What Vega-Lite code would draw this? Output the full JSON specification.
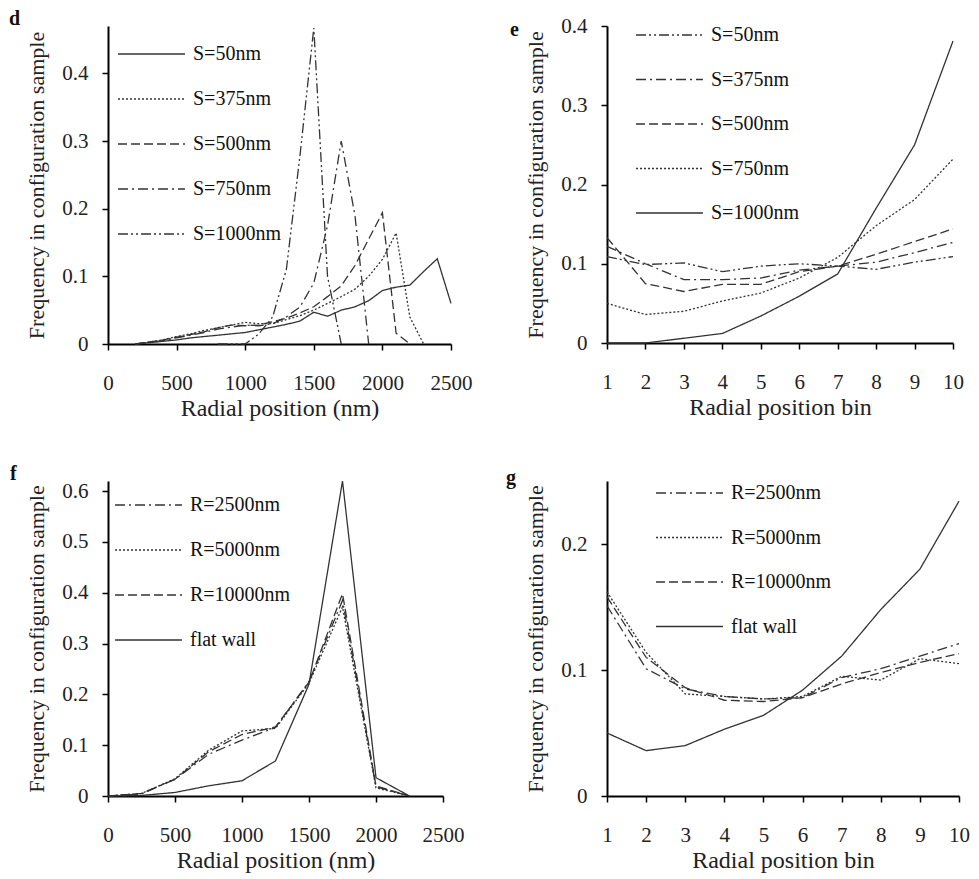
{
  "$schema": "https://vega.github.io/schema/vega-lite/v6.json",
  "padding": {"left": 9, "top": 9, "right": 5, "bottom": 5},
  "background": "white",
  "bounds": "flush",
  "columns": 2,
  "spacing": {"row": 137, "column": 156},
  "resolve": {"scale": {"strokeDash": "independent"}, "legend": {"strokeDash": "independent"}},
  "config": {
    "view": {"stroke": null},
    "axis": {
      "grid": false,
      "labelFlush": false,
      "domainColor": "#000",
      "domainWidth": 2,
      "tickColor": "#000",
      "tickWidth": 1.5,
      "tickSize": 6,
      "labelFont": "Liberation Serif",
      "labelFontSize": 21,
      "labelColor": "#222",
      "titleFont": "Liberation Serif",
      "titleFontWeight": "normal",
      "titleColor": "#222"
    },
    "axisX": {"labelPadding": 22, "titleFontSize": 24, "titlePadding": 3},
    "axisY": {"labelPadding": 14, "titleFontSize": 22, "titlePadding": 13},
    "legend": {
      "title": null,
      "orient": "none",
      "symbolType": "M-4,0H4",
      "symbolSize": 280,
      "symbolStrokeWidth": 1.3,
      "symbolStrokeColor": "#333",
      "symbolOffset": 23.5,
      "labelOffset": 31.5,
      "rowPadding": 25,
      "padding": 0,
      "labelFont": "Liberation Serif",
      "labelFontSize": 20,
      "labelColor": "#111",
      "labelLimit": 0
    },
    "title": {"font": "Liberation Serif", "fontSize": 20, "fontWeight": "bold", "color": "#111", "anchor": "start", "frame": "group", "align": "left", "baseline": "alphabetic", "offset": 0}
  },
  "datasets": {
    "d": [
      {"x": 200, "y": 0, "s": "S=50nm"}, {"x": 300, "y": 0.002, "s": "S=50nm"}, {"x": 400, "y": 0.004, "s": "S=50nm"}, {"x": 500, "y": 0.006, "s": "S=50nm"}, {"x": 600, "y": 0.009, "s": "S=50nm"}, {"x": 700, "y": 0.011, "s": "S=50nm"}, {"x": 800, "y": 0.013, "s": "S=50nm"}, {"x": 900, "y": 0.015, "s": "S=50nm"}, {"x": 1000, "y": 0.017, "s": "S=50nm"}, {"x": 1100, "y": 0.021, "s": "S=50nm"}, {"x": 1200, "y": 0.025, "s": "S=50nm"}, {"x": 1300, "y": 0.029, "s": "S=50nm"}, {"x": 1400, "y": 0.034, "s": "S=50nm"}, {"x": 1500, "y": 0.047, "s": "S=50nm"}, {"x": 1600, "y": 0.041, "s": "S=50nm"}, {"x": 1700, "y": 0.05, "s": "S=50nm"}, {"x": 1800, "y": 0.055, "s": "S=50nm"}, {"x": 1900, "y": 0.064, "s": "S=50nm"}, {"x": 2000, "y": 0.079, "s": "S=50nm"}, {"x": 2100, "y": 0.084, "s": "S=50nm"}, {"x": 2200, "y": 0.087, "s": "S=50nm"}, {"x": 2300, "y": 0.107, "s": "S=50nm"}, {"x": 2400, "y": 0.126, "s": "S=50nm"}, {"x": 2500, "y": 0.06, "s": "S=50nm"},
      {"x": 200, "y": 0, "s": "S=375nm"}, {"x": 300, "y": 0.003, "s": "S=375nm"}, {"x": 400, "y": 0.006, "s": "S=375nm"}, {"x": 500, "y": 0.011, "s": "S=375nm"}, {"x": 600, "y": 0.015, "s": "S=375nm"}, {"x": 700, "y": 0.02, "s": "S=375nm"}, {"x": 800, "y": 0.024, "s": "S=375nm"}, {"x": 900, "y": 0.028, "s": "S=375nm"}, {"x": 1000, "y": 0.032, "s": "S=375nm"}, {"x": 1100, "y": 0.03, "s": "S=375nm"}, {"x": 1200, "y": 0.03, "s": "S=375nm"}, {"x": 1300, "y": 0.036, "s": "S=375nm"}, {"x": 1400, "y": 0.042, "s": "S=375nm"}, {"x": 1500, "y": 0.05, "s": "S=375nm"}, {"x": 1600, "y": 0.06, "s": "S=375nm"}, {"x": 1700, "y": 0.07, "s": "S=375nm"}, {"x": 1800, "y": 0.081, "s": "S=375nm"}, {"x": 1900, "y": 0.1, "s": "S=375nm"}, {"x": 2000, "y": 0.125, "s": "S=375nm"}, {"x": 2100, "y": 0.164, "s": "S=375nm"}, {"x": 2200, "y": 0.04, "s": "S=375nm"}, {"x": 2300, "y": 0, "s": "S=375nm"},
      {"x": 200, "y": 0, "s": "S=500nm"}, {"x": 300, "y": 0.003, "s": "S=500nm"}, {"x": 400, "y": 0.006, "s": "S=500nm"}, {"x": 500, "y": 0.01, "s": "S=500nm"}, {"x": 600, "y": 0.014, "s": "S=500nm"}, {"x": 700, "y": 0.018, "s": "S=500nm"}, {"x": 800, "y": 0.024, "s": "S=500nm"}, {"x": 900, "y": 0.028, "s": "S=500nm"}, {"x": 1000, "y": 0.027, "s": "S=500nm"}, {"x": 1100, "y": 0.028, "s": "S=500nm"}, {"x": 1200, "y": 0.033, "s": "S=500nm"}, {"x": 1300, "y": 0.038, "s": "S=500nm"}, {"x": 1400, "y": 0.046, "s": "S=500nm"}, {"x": 1500, "y": 0.055, "s": "S=500nm"}, {"x": 1600, "y": 0.07, "s": "S=500nm"}, {"x": 1700, "y": 0.086, "s": "S=500nm"}, {"x": 1800, "y": 0.116, "s": "S=500nm"}, {"x": 1900, "y": 0.155, "s": "S=500nm"}, {"x": 2000, "y": 0.194, "s": "S=500nm"}, {"x": 2100, "y": 0.016, "s": "S=500nm"}, {"x": 2200, "y": 0, "s": "S=500nm"},
      {"x": 200, "y": 0, "s": "S=750nm"}, {"x": 300, "y": 0.002, "s": "S=750nm"}, {"x": 400, "y": 0.005, "s": "S=750nm"}, {"x": 500, "y": 0.009, "s": "S=750nm"}, {"x": 600, "y": 0.013, "s": "S=750nm"}, {"x": 700, "y": 0.017, "s": "S=750nm"}, {"x": 800, "y": 0.022, "s": "S=750nm"}, {"x": 900, "y": 0.025, "s": "S=750nm"}, {"x": 1000, "y": 0.028, "s": "S=750nm"}, {"x": 1100, "y": 0.027, "s": "S=750nm"}, {"x": 1200, "y": 0.03, "s": "S=750nm"}, {"x": 1300, "y": 0.04, "s": "S=750nm"}, {"x": 1400, "y": 0.055, "s": "S=750nm"}, {"x": 1500, "y": 0.09, "s": "S=750nm"}, {"x": 1600, "y": 0.175, "s": "S=750nm"}, {"x": 1700, "y": 0.3, "s": "S=750nm"}, {"x": 1800, "y": 0.19, "s": "S=750nm"}, {"x": 1900, "y": 0, "s": "S=750nm"},
      {"x": 800, "y": 0, "s": "S=1000nm"}, {"x": 900, "y": 0, "s": "S=1000nm"}, {"x": 1000, "y": 0, "s": "S=1000nm"}, {"x": 1100, "y": 0.015, "s": "S=1000nm"}, {"x": 1200, "y": 0.04, "s": "S=1000nm"}, {"x": 1300, "y": 0.11, "s": "S=1000nm"}, {"x": 1400, "y": 0.28, "s": "S=1000nm"}, {"x": 1500, "y": 0.467, "s": "S=1000nm"}, {"x": 1600, "y": 0.1, "s": "S=1000nm"}, {"x": 1700, "y": 0, "s": "S=1000nm"}
    ],
    "e": [
      {"x": 1, "y": 0.109, "s": "S=50nm"}, {"x": 2, "y": 0.099, "s": "S=50nm"}, {"x": 3, "y": 0.101, "s": "S=50nm"}, {"x": 4, "y": 0.09, "s": "S=50nm"}, {"x": 5, "y": 0.097, "s": "S=50nm"}, {"x": 6, "y": 0.1, "s": "S=50nm"}, {"x": 7, "y": 0.097, "s": "S=50nm"}, {"x": 8, "y": 0.093, "s": "S=50nm"}, {"x": 9, "y": 0.102, "s": "S=50nm"}, {"x": 10, "y": 0.109, "s": "S=50nm"},
      {"x": 1, "y": 0.122, "s": "S=375nm"}, {"x": 2, "y": 0.1, "s": "S=375nm"}, {"x": 3, "y": 0.08, "s": "S=375nm"}, {"x": 4, "y": 0.08, "s": "S=375nm"}, {"x": 5, "y": 0.082, "s": "S=375nm"}, {"x": 6, "y": 0.092, "s": "S=375nm"}, {"x": 7, "y": 0.097, "s": "S=375nm"}, {"x": 8, "y": 0.102, "s": "S=375nm"}, {"x": 9, "y": 0.114, "s": "S=375nm"}, {"x": 10, "y": 0.127, "s": "S=375nm"},
      {"x": 1, "y": 0.133, "s": "S=500nm"}, {"x": 2, "y": 0.075, "s": "S=500nm"}, {"x": 3, "y": 0.065, "s": "S=500nm"}, {"x": 4, "y": 0.074, "s": "S=500nm"}, {"x": 5, "y": 0.074, "s": "S=500nm"}, {"x": 6, "y": 0.09, "s": "S=500nm"}, {"x": 7, "y": 0.097, "s": "S=500nm"}, {"x": 8, "y": 0.112, "s": "S=500nm"}, {"x": 9, "y": 0.128, "s": "S=500nm"}, {"x": 10, "y": 0.144, "s": "S=500nm"},
      {"x": 1, "y": 0.05, "s": "S=750nm"}, {"x": 2, "y": 0.036, "s": "S=750nm"}, {"x": 3, "y": 0.04, "s": "S=750nm"}, {"x": 4, "y": 0.053, "s": "S=750nm"}, {"x": 5, "y": 0.063, "s": "S=750nm"}, {"x": 6, "y": 0.082, "s": "S=750nm"}, {"x": 7, "y": 0.108, "s": "S=750nm"}, {"x": 8, "y": 0.148, "s": "S=750nm"}, {"x": 9, "y": 0.181, "s": "S=750nm"}, {"x": 10, "y": 0.232, "s": "S=750nm"},
      {"x": 1, "y": 0, "s": "S=1000nm"}, {"x": 2, "y": 0, "s": "S=1000nm"}, {"x": 3, "y": 0.006, "s": "S=1000nm"}, {"x": 4, "y": 0.012, "s": "S=1000nm"}, {"x": 5, "y": 0.034, "s": "S=1000nm"}, {"x": 6, "y": 0.059, "s": "S=1000nm"}, {"x": 7, "y": 0.087, "s": "S=1000nm"}, {"x": 8, "y": 0.17, "s": "S=1000nm"}, {"x": 9, "y": 0.25, "s": "S=1000nm"}, {"x": 10, "y": 0.381, "s": "S=1000nm"}
    ],
    "f": [
      {"x": 0, "y": 0, "s": "R=2500nm"}, {"x": 250, "y": 0.004, "s": "R=2500nm"}, {"x": 500, "y": 0.033, "s": "R=2500nm"}, {"x": 750, "y": 0.082, "s": "R=2500nm"}, {"x": 1000, "y": 0.11, "s": "R=2500nm"}, {"x": 1250, "y": 0.135, "s": "R=2500nm"}, {"x": 1500, "y": 0.225, "s": "R=2500nm"}, {"x": 1750, "y": 0.385, "s": "R=2500nm"}, {"x": 2000, "y": 0.018, "s": "R=2500nm"}, {"x": 2250, "y": 0, "s": "R=2500nm"},
      {"x": 0, "y": 0, "s": "R=5000nm"}, {"x": 250, "y": 0.005, "s": "R=5000nm"}, {"x": 500, "y": 0.034, "s": "R=5000nm"}, {"x": 750, "y": 0.09, "s": "R=5000nm"}, {"x": 1000, "y": 0.128, "s": "R=5000nm"}, {"x": 1250, "y": 0.133, "s": "R=5000nm"}, {"x": 1500, "y": 0.222, "s": "R=5000nm"}, {"x": 1750, "y": 0.372, "s": "R=5000nm"}, {"x": 2000, "y": 0.016, "s": "R=5000nm"}, {"x": 2250, "y": 0, "s": "R=5000nm"},
      {"x": 0, "y": 0, "s": "R=10000nm"}, {"x": 250, "y": 0.005, "s": "R=10000nm"}, {"x": 500, "y": 0.033, "s": "R=10000nm"}, {"x": 750, "y": 0.087, "s": "R=10000nm"}, {"x": 1000, "y": 0.121, "s": "R=10000nm"}, {"x": 1250, "y": 0.136, "s": "R=10000nm"}, {"x": 1500, "y": 0.224, "s": "R=10000nm"}, {"x": 1750, "y": 0.398, "s": "R=10000nm"}, {"x": 2000, "y": 0.02, "s": "R=10000nm"}, {"x": 2250, "y": 0, "s": "R=10000nm"},
      {"x": 0, "y": 0, "s": "flat wall"}, {"x": 250, "y": 0.001, "s": "flat wall"}, {"x": 500, "y": 0.007, "s": "flat wall"}, {"x": 750, "y": 0.02, "s": "flat wall"}, {"x": 1000, "y": 0.03, "s": "flat wall"}, {"x": 1250, "y": 0.069, "s": "flat wall"}, {"x": 1500, "y": 0.22, "s": "flat wall"}, {"x": 1750, "y": 0.62, "s": "flat wall"}, {"x": 2000, "y": 0.036, "s": "flat wall"}, {"x": 2250, "y": 0, "s": "flat wall"}
    ],
    "g": [
      {"x": 1, "y": 0.151, "s": "R=2500nm"}, {"x": 2, "y": 0.101, "s": "R=2500nm"}, {"x": 3, "y": 0.085, "s": "R=2500nm"}, {"x": 4, "y": 0.079, "s": "R=2500nm"}, {"x": 5, "y": 0.077, "s": "R=2500nm"}, {"x": 6, "y": 0.078, "s": "R=2500nm"}, {"x": 7, "y": 0.094, "s": "R=2500nm"}, {"x": 8, "y": 0.101, "s": "R=2500nm"}, {"x": 9, "y": 0.111, "s": "R=2500nm"}, {"x": 10, "y": 0.121, "s": "R=2500nm"},
      {"x": 1, "y": 0.162, "s": "R=5000nm"}, {"x": 2, "y": 0.114, "s": "R=5000nm"}, {"x": 3, "y": 0.081, "s": "R=5000nm"}, {"x": 4, "y": 0.079, "s": "R=5000nm"}, {"x": 5, "y": 0.077, "s": "R=5000nm"}, {"x": 6, "y": 0.079, "s": "R=5000nm"}, {"x": 7, "y": 0.095, "s": "R=5000nm"}, {"x": 8, "y": 0.092, "s": "R=5000nm"}, {"x": 9, "y": 0.109, "s": "R=5000nm"}, {"x": 10, "y": 0.105, "s": "R=5000nm"},
      {"x": 1, "y": 0.158, "s": "R=10000nm"}, {"x": 2, "y": 0.11, "s": "R=10000nm"}, {"x": 3, "y": 0.086, "s": "R=10000nm"}, {"x": 4, "y": 0.076, "s": "R=10000nm"}, {"x": 5, "y": 0.075, "s": "R=10000nm"}, {"x": 6, "y": 0.078, "s": "R=10000nm"}, {"x": 7, "y": 0.089, "s": "R=10000nm"}, {"x": 8, "y": 0.098, "s": "R=10000nm"}, {"x": 9, "y": 0.106, "s": "R=10000nm"}, {"x": 10, "y": 0.113, "s": "R=10000nm"},
      {"x": 1, "y": 0.05, "s": "flat wall"}, {"x": 2, "y": 0.036, "s": "flat wall"}, {"x": 3, "y": 0.04, "s": "flat wall"}, {"x": 4, "y": 0.053, "s": "flat wall"}, {"x": 5, "y": 0.064, "s": "flat wall"}, {"x": 6, "y": 0.084, "s": "flat wall"}, {"x": 7, "y": 0.111, "s": "flat wall"}, {"x": 8, "y": 0.148, "s": "flat wall"}, {"x": 9, "y": 0.18, "s": "flat wall"}, {"x": 10, "y": 0.234, "s": "flat wall"}
    ]
  },
  "concat": [
    {
      "width": 343, "height": 318,
      "title": {"text": "d", "dx": -99, "dy": 8},
      "data": {"name": "d"},
      "mark": {"type": "line", "color": "#333", "strokeWidth": 1.3},
      "encoding": {
        "x": {"field": "x", "type": "quantitative", "scale": {"domain": [0, 2500], "nice": false}, "axis": {"values": [0, 500, 1000, 1500, 2000, 2500], "format": "d", "title": "Radial position (nm)"}},
        "y": {"field": "y", "type": "quantitative", "scale": {"domain": [0, 0.47], "nice": false}, "axis": {"values": [0, 0.1, 0.2, 0.3, 0.4], "format": "~g", "title": "Frequency in configuration sample"}},
        "strokeDash": {"field": "s", "type": "nominal",
          "scale": {"domain": ["S=50nm", "S=375nm", "S=500nm", "S=750nm", "S=1000nm"], "range": [[1, 0], [2, 2], [9, 4], [10, 4, 2, 4], [10, 3, 2, 3, 2, 3]]},
          "legend": {"legendX": 10, "legendY": 18, "rowPadding": 25}}
      }
    },
    {
      "width": 346, "height": 317,
      "title": {"text": "e", "dx": -97, "dy": 29},
      "data": {"name": "e"},
      "mark": {"type": "line", "color": "#333", "strokeWidth": 1.3},
      "encoding": {
        "x": {"field": "x", "type": "quantitative", "scale": {"domain": [1, 10], "nice": false, "zero": false}, "axis": {"values": [1, 2, 3, 4, 5, 6, 7, 8, 9, 10], "format": "d", "title": "Radial position bin"}},
        "y": {"field": "y", "type": "quantitative", "scale": {"domain": [0, 0.4], "nice": false}, "axis": {"values": [0, 0.1, 0.2, 0.3, 0.4], "format": "~g", "title": "Frequency in configuration sample"}},
        "strokeDash": {"field": "s", "type": "nominal",
          "scale": {"domain": ["S=50nm", "S=375nm", "S=500nm", "S=750nm", "S=1000nm"], "range": [[10, 3, 2, 3, 2, 3], [10, 4, 2, 4], [9, 4], [2, 2], [1, 0]]},
          "legend": {"legendX": 29, "legendY": -1, "rowPadding": 24.5}}
      }
    },
    {
      "width": 335, "height": 315,
      "title": {"text": "f", "dx": -98, "dy": 10},
      "data": {"name": "f"},
      "mark": {"type": "line", "color": "#333", "strokeWidth": 1.3},
      "encoding": {
        "x": {"field": "x", "type": "quantitative", "scale": {"domain": [0, 2500], "nice": false}, "axis": {"values": [0, 500, 1000, 1500, 2000, 2500], "format": "d", "title": "Radial position (nm)"}},
        "y": {"field": "y", "type": "quantitative", "scale": {"domain": [0, 0.62], "nice": false}, "axis": {"values": [0, 0.1, 0.2, 0.3, 0.4, 0.5, 0.6], "format": "~g", "title": "Frequency in configuration sample"}},
        "strokeDash": {"field": "s", "type": "nominal",
          "scale": {"domain": ["R=2500nm", "R=5000nm", "R=10000nm", "flat wall"], "range": [[10, 4, 2, 4], [2, 2], [9, 4], [1, 0]]},
          "legend": {"legendX": 7, "legendY": 14, "rowPadding": 25}}
      }
    },
    {
      "width": 352, "height": 315,
      "title": {"text": "g", "dx": -101, "dy": 11},
      "data": {"name": "g"},
      "mark": {"type": "line", "color": "#333", "strokeWidth": 1.3},
      "encoding": {
        "x": {"field": "x", "type": "quantitative", "scale": {"domain": [1, 10], "nice": false, "zero": false}, "axis": {"values": [1, 2, 3, 4, 5, 6, 7, 8, 9, 10], "format": "d", "title": "Radial position bin"}},
        "y": {"field": "y", "type": "quantitative", "scale": {"domain": [0, 0.25], "nice": false}, "axis": {"values": [0, 0.1, 0.2], "format": "~g", "title": "Frequency in configuration sample"}},
        "strokeDash": {"field": "s", "type": "nominal",
          "scale": {"domain": ["R=2500nm", "R=5000nm", "R=10000nm", "flat wall"], "range": [[10, 4, 2, 4], [2, 2], [9, 4], [1, 0]]},
          "legend": {"legendX": 49, "legendY": 2, "rowPadding": 24.5}}
      }
    }
  ]
}
